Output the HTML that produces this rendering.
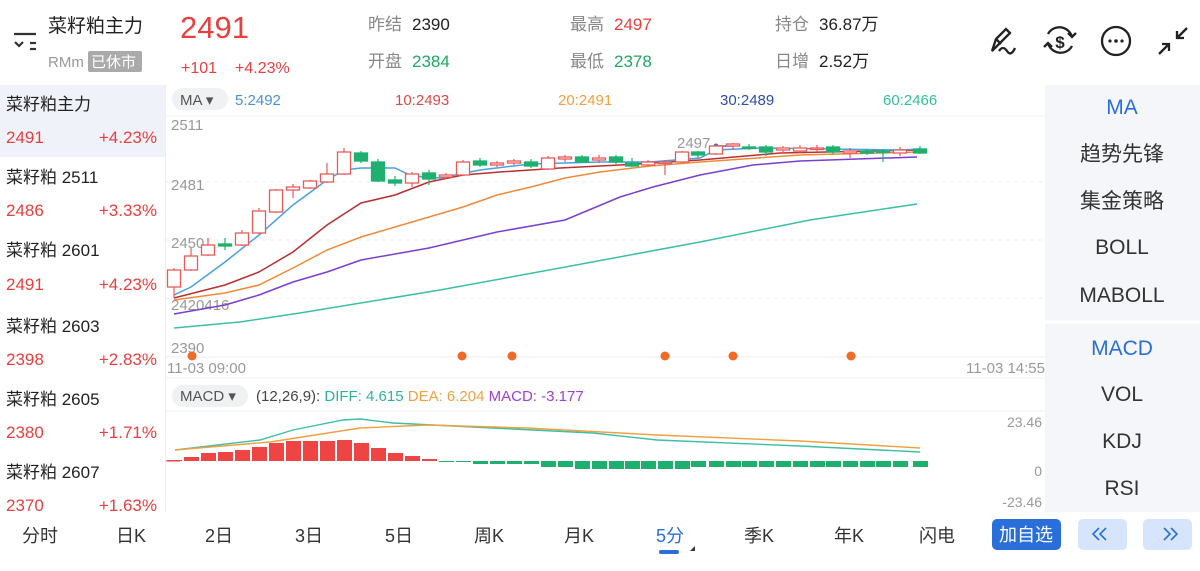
<!DOCTYPE html>
<html><head><meta charset="utf-8">
<style>
body{margin:0;width:1200px;height:571px;overflow:hidden;background:#fff;font-family:"Liberation Sans","Noto Sans CJK SC",sans-serif;}
svg{position:absolute;left:0;top:0}
</style></head><body>
<svg id="s" width="1200" height="571" xmlns="http://www.w3.org/2000/svg" font-family="Liberation Sans, Noto Sans CJK SC, sans-serif">
<!-- left list -->
<rect x="0" y="85" width="165" height="72" fill="#f0f2f9"/>
<line x1="165.5" y1="85" x2="165.5" y2="512" stroke="#eceef2"/>
<rect x="1045" y="85" width="155" height="427" fill="#f5f6f9"/>
<line x1="1045" y1="322" x2="1200" y2="322" stroke="#fff" stroke-width="3"/>
<g font-size="17" fill="#222">
<text x="6" y="110">菜籽粕主力</text><text x="6" y="183">菜籽粕 2511</text><text x="6" y="256">菜籽粕 2601</text>
<text x="6" y="332">菜籽粕 2603</text><text x="6" y="405">菜籽粕 2605</text><text x="6" y="478">菜籽粕 2607</text>
</g>
<g font-size="17" fill="#e8403f">
<text x="6" y="143">2491</text><text x="157" y="143" text-anchor="end">+4.23%</text>
<text x="6" y="216">2486</text><text x="157" y="216" text-anchor="end">+3.33%</text>
<text x="6" y="290">2491</text><text x="157" y="290" text-anchor="end">+4.23%</text>
<text x="6" y="365">2398</text><text x="157" y="365" text-anchor="end">+2.83%</text>
<text x="6" y="438">2380</text><text x="157" y="438" text-anchor="end">+1.71%</text>
<text x="6" y="511">2370</text><text x="157" y="511" text-anchor="end">+1.63%</text>
</g>
<!-- header -->
<g stroke="#333" stroke-width="2.2" fill="none"><line x1="14" y1="34" x2="36" y2="34"/><path d="M15 42 l4 4 4-4"/><line x1="30" y1="43" x2="36" y2="43"/><line x1="30" y1="49" x2="36" y2="49"/></g>
<text x="48" y="32" font-size="19" fill="#222">菜籽粕主力</text>
<text x="48" y="67" font-size="15" fill="#999">RMm</text>
<rect x="88" y="51" width="54" height="21" rx="2" fill="#aaa"/>
<text x="91" y="67" font-size="15" fill="#fff">已休市</text>
<text x="180" y="38" font-size="31" fill="#e8403f">2491</text>
<text x="181" y="73" font-size="16" fill="#e8403f">+101</text>
<text x="235" y="73" font-size="16" fill="#e8403f">+4.23%</text>
<g font-size="17"><text x="368" y="30" fill="#888">昨结</text><text x="412" y="30" fill="#222">2390</text>
<text x="368" y="67" fill="#888">开盘</text><text x="412" y="67" fill="#1fa864">2384</text>
<text x="570" y="30" fill="#888">最高</text><text x="614" y="30" fill="#e8403f">2497</text>
<text x="570" y="67" fill="#888">最低</text><text x="614" y="67" fill="#1fa864">2378</text>
<text x="775" y="30" fill="#888">持仓</text><text x="819" y="30" fill="#222">36.87万</text>
<text x="775" y="67" fill="#888">日增</text><text x="819" y="67" fill="#222">2.52万</text></g>
<g stroke="#222" stroke-width="2.3" fill="none">
<path d="M992 51 l4-12 10-10 4 4-10 10z M996 39 l5 5 M999 51 q4-6 8 0 t8-3"/>
<path d="M1048 34 a13 13 0 0 1 24 3 M1072 46 a13 13 0 0 1-24-3 M1068 33 l4 4 4-4 M1052 47 l-4-4-4 4"/>
<circle cx="1116" cy="41" r="14"/>
<path d="M1159 54 l10-10 M1162 44 h7 v7 M1187 28 l-10 10 M1177 31 v7 h7"/>
</g>
<text x="1060" y="48" font-size="17" font-weight="bold" fill="#222" text-anchor="middle">$</text>
<g fill="#222"><circle cx="1110" cy="41" r="1.6"/><circle cx="1116" cy="41" r="1.8"/><circle cx="1122" cy="41" r="1.6"/></g>
<!-- MA bar -->
<rect x="172" y="88" width="56" height="22" rx="11" fill="#f0f1f3"/>
<text x="180" y="105" font-size="15" fill="#555">MA ▾</text>
<g font-size="15"><text x="235" y="105" fill="#4a90d9">5:2492</text><text x="395" y="105" fill="#d94a4a">10:2493</text>
<text x="558" y="105" fill="#f0a040">20:2491</text><text x="720" y="105" fill="#2a4fb0">30:2489</text><text x="883" y="105" fill="#30c0a0">60:2466</text></g>
<g stroke="#eee" stroke-dasharray="4 4"><line x1="166" y1="182" x2="1045" y2="182"/><line x1="166" y1="240" x2="1045" y2="240"/><line x1="166" y1="298" x2="1045" y2="298"/></g>
<line x1="166" y1="116" x2="1045" y2="116" stroke="#f2f2f2"/>
<line x1="166" y1="357" x2="1045" y2="357" stroke="#eee"/>
<g font-size="15" fill="#999"><text x="171" y="130">2511</text><text x="171" y="190">2481</text><text x="171" y="248">2450</text><text x="171" y="310">2420416</text><text x="171" y="353">2390</text>
<text x="167" y="373">11-03 09:00</text><text x="1045" y="373" text-anchor="end">11-03 14:55</text>
<text x="677" y="148">2497</text></g>
<g id="lines" fill="none" stroke-width="1.5"></g>
<g id="candles"></g>
<g fill="#f06a2a"><circle cx="192" cy="356" r="4.5"/><circle cx="462" cy="356" r="4.5"/><circle cx="512" cy="356" r="4.5"/><circle cx="665" cy="356" r="4.5"/><circle cx="733" cy="356" r="4.5"/><circle cx="851" cy="356" r="4.5"/></g>
<!-- MACD -->
<line x1="166" y1="378" x2="1045" y2="378" stroke="#f2f2f2"/>
<rect x="172" y="385" width="76" height="22" rx="11" fill="#f0f1f3"/>
<text x="180" y="401" font-size="15" fill="#555">MACD ▾</text>
<text x="256" y="401" font-size="15"><tspan fill="#444">(12,26,9): </tspan><tspan fill="#30b0a0">DIFF: 4.615 </tspan><tspan fill="#f0a040">DEA: 6.204 </tspan><tspan fill="#a040d0">MACD: -3.177</tspan></text>
<line x1="166" y1="411" x2="1045" y2="411" stroke="#f2f2f2"/>
<g font-size="14" fill="#999" text-anchor="end"><text x="1042" y="427">23.46</text><text x="1042" y="476">0</text><text x="1042" y="507">-23.46</text></g>
<g id="macd"></g>
<!-- right panel -->
<g font-size="21" text-anchor="middle" fill="#333">
<text x="1122" y="114" fill="#2a6fd9">MA</text><text x="1122" y="161">趋势先锋</text><text x="1122" y="208">集金策略</text>
<text x="1122" y="254">BOLL</text><text x="1122" y="302">MABOLL</text><text x="1122" y="355" fill="#2a6fd9">MACD</text>
<text x="1122" y="401">VOL</text><text x="1122" y="448">KDJ</text><text x="1122" y="495">RSI</text></g>
<!-- bottom tabs -->
<g font-size="18" fill="#333" text-anchor="middle">
<text x="40" y="542">分时</text><text x="131" y="542">日K</text><text x="219" y="542">2日</text><text x="309" y="542">3日</text><text x="399" y="542">5日</text>
<text x="489" y="542">周K</text><text x="579" y="542">月K</text><text x="670" y="542" fill="#2a6fd9">5分</text><text x="759" y="542">季K</text><text x="849" y="542">年K</text><text x="937" y="542">闪电</text></g>
<rect x="659" y="550" width="20" height="4" rx="2" fill="#2a6fd9"/>
<path d="M690 551 l5-5 v5z" fill="#333"/>
<rect x="992" y="519" width="69" height="31" rx="5" fill="#2a6fd9"/>
<text x="1026" y="541" font-size="18" fill="#fff" text-anchor="middle">加自选</text>
<rect x="1078" y="519" width="49" height="31" rx="5" fill="#d6e5fb"/>
<rect x="1143" y="519" width="49" height="31" rx="5" fill="#d6e5fb"/>
<g stroke="#2a6fd9" stroke-width="1.6" fill="none"><path d="M1099 528 l-6 6 6 6 M1106 528 l-6 6 6 6"/><path d="M1164 528 l6 6-6 6 M1171 528 l6 6-6 6"/></g>
</svg>
<script>
var NS="http://www.w3.org/2000/svg";
function el(p,t,a){var e=document.createElementNS(NS,t);for(var k in a)e.setAttribute(k,a[k]);p.appendChild(e);return e;}
var L=document.getElementById('lines');
function pl(pts,c){el(L,'polyline',{points:pts,stroke:c});}
pl("174,328 240,322 300,313 440,290 560,268 700,242 810,220 917,204","#3cbfa5");
pl("174,314 225,305 259,295 293,282 327,272 361,260 429,248 497,232 565,220 620,197 653,187 700,175 753,165 800,161 917,157","#7a3fd0");
pl("174,300 225,293 259,285 293,268 327,250 361,237 395,227 429,217 463,207 497,195 531,187 565,178 600,172 650,166 700,162 800,155 920,152","#f08a3a");
pl("174,298 225,285 259,272 293,252 327,225 361,203 395,195 429,182 463,175 500,172 560,168 620,165 700,160 780,153 920,150","#b83030");
pl("174,295 191,287 225,262 259,235 293,205 327,180 344,170 361,168 395,168 412,176 440,178 480,170 530,164 600,162 650,162 700,158 716,150 760,148 900,150 920,149","#4aa0e0");
el(L,'polyline',{points:"716,146 733,146",stroke:"#3a70d0"});el(L,'circle',{cx:716,cy:146,r:2.5,fill:"#3a70d0"});
// candles: x, top, bottom, hi, lo, up
var C=[[174,270,287,268,298,1],[191,256,270,248,271,1],[208,245,255,238,256,1],[225,244,246,238,250,0],[242,233,245,230,246,1],[259,211,233,208,234,1],[276,190,212,189,213,1],[293,187,190,184,198,1],[310,181,188,180,189,1],[327,174,182,163,183,1],[344,152,174,148,175,1],[361,153,161,151,163,0],[378,162,181,159,182,0],[395,180,183,176,186,0],[412,174,183,172,187,1],[429,173,179,170,185,0],[446,175,177,173,179,1],[463,162,175,160,176,1],[480,161,165,158,167,0],[497,163,165,161,167,1],[514,161,163,159,165,1],[531,162,166,159,168,0],[548,158,169,156,170,1],[565,157,159,155,162,1],[582,157,162,155,163,0],[599,158,160,155,163,1],[616,157,162,155,164,0],[632,163,166,158,167,0],[648,162,165,160,166,1],[665,162,163,160,175,1],[682,152,162,151,163,1],[698,152,155,151,158,0],[716,146,154,145,155,1],[733,144,146,143,150,1],[749,147,148,144,150,0],[766,147,152,145,156,0],[783,148,150,146,153,1],[800,148,151,145,153,1],[817,148,149,145,152,1],[833,147,152,145,154,0],[850,151,153,148,158,1],[867,151,153,149,155,0],[883,151,152,149,162,0],[900,150,153,147,156,1],[920,149,153,146,154,0]];
var G=document.getElementById('candles');
C.forEach(function(c){var col=c[5]?"#e85a5a":"#1fb070";
el(G,'line',{x1:c[0],x2:c[0],y1:c[3],y2:c[4],stroke:col,"stroke-width":1.2});
var h=Math.max(c[2]-c[1],1.5);
el(G,'rect',{x:c[0]-6.5,y:c[1],width:13,height:h,fill:c[5]?"#fff":col,stroke:col,"stroke-width":1.3});});
// macd
var M=document.getElementById('macd');
var tops=[460,457,453,452,450,447,443,441,441,441,440,443,448,453,456,459];
var z=461;
C.forEach(function(c,i){var t;if(i<tops.length){t=tops[i];el(M,'rect',{x:c[0]-7,y:t,width:15,height:z-t,fill:"#ee4444"});}
else{var b=i<18?462:(i<22?464:(i<32?469-(Math.abs(i-27)>3?2:0):467));el(M,'rect',{x:c[0]-7,y:z,width:15,height:b-z,fill:"#1fb070"});}});
el(M,'line',{x1:166,x2:180,y1:461,y2:461,stroke:"#ee4444"});
el(M,'polyline',{points:"175,450 260,440 293,430 343,420 360,419 393,423 493,428 593,433 657,440 800,446 920,452",fill:"none",stroke:"#3cbfa5","stroke-width":1.4});
el(M,'polyline',{points:"175,450 270,442 360,428 427,425 527,428 657,435 800,441 920,448",fill:"none",stroke:"#f0a040","stroke-width":1.4});
</script>
</body></html>
